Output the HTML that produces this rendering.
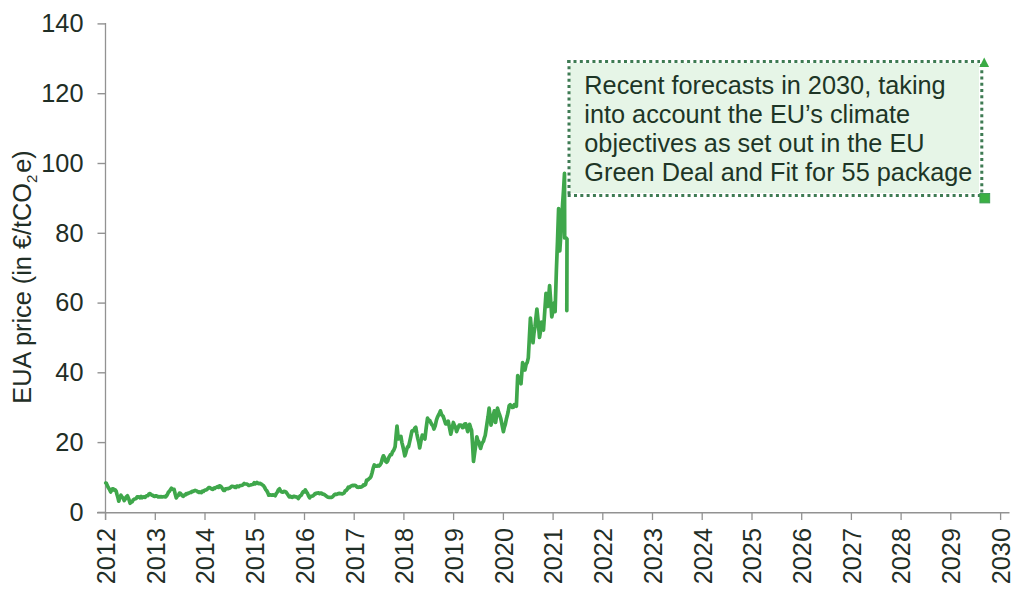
<!DOCTYPE html>
<html><head><meta charset="utf-8"><style>
html,body{margin:0;padding:0;background:#fff;}
body{width:1024px;height:616px;overflow:hidden;position:relative;}
svg{position:absolute;left:0;top:0;}
.t{font-family:"Liberation Sans",sans-serif;font-size:25.3px;fill:#1f2e26;}
.note{position:absolute;left:584.3px;top:71.2px;font-family:"Liberation Sans",sans-serif;font-size:25.3px;line-height:29px;color:#1d3526;white-space:nowrap;}
</style></head><body>
<svg width="1024" height="616" viewBox="0 0 1024 616">
<rect x="570" y="63" width="409" height="130" fill="#e6f5e7"/>
<line x1="97" y1="512.7" x2="1009.5" y2="512.7" stroke="#929292" stroke-width="1.5"/><line x1="105.5" y1="23" x2="105.5" y2="520" stroke="#929292" stroke-width="1.3"/><line x1="97.5" y1="512.4" x2="105.5" y2="512.4" stroke="#929292" stroke-width="1.4"/><text x="83.5" y="520.6" text-anchor="end" class="t">0</text><line x1="97.5" y1="442.6" x2="105.5" y2="442.6" stroke="#929292" stroke-width="1.4"/><text x="83.5" y="450.8" text-anchor="end" class="t">20</text><line x1="97.5" y1="372.8" x2="105.5" y2="372.8" stroke="#929292" stroke-width="1.4"/><text x="83.5" y="381.0" text-anchor="end" class="t">40</text><line x1="97.5" y1="303.1" x2="105.5" y2="303.1" stroke="#929292" stroke-width="1.4"/><text x="83.5" y="311.3" text-anchor="end" class="t">60</text><line x1="97.5" y1="233.3" x2="105.5" y2="233.3" stroke="#929292" stroke-width="1.4"/><text x="83.5" y="241.5" text-anchor="end" class="t">80</text><line x1="97.5" y1="163.5" x2="105.5" y2="163.5" stroke="#929292" stroke-width="1.4"/><text x="83.5" y="171.7" text-anchor="end" class="t">100</text><line x1="97.5" y1="93.7" x2="105.5" y2="93.7" stroke="#929292" stroke-width="1.4"/><text x="83.5" y="101.9" text-anchor="end" class="t">120</text><line x1="97.5" y1="23.9" x2="105.5" y2="23.9" stroke="#929292" stroke-width="1.4"/><text x="83.5" y="32.1" text-anchor="end" class="t">140</text><line x1="105.6" y1="512.5" x2="105.6" y2="520" stroke="#929292" stroke-width="1.3"/><text transform="translate(114.9 584.3) rotate(-90)" class="t">2012</text><line x1="155.3" y1="512.5" x2="155.3" y2="520" stroke="#929292" stroke-width="1.3"/><text transform="translate(164.6 584.3) rotate(-90)" class="t">2013</text><line x1="205.0" y1="512.5" x2="205.0" y2="520" stroke="#929292" stroke-width="1.3"/><text transform="translate(214.3 584.3) rotate(-90)" class="t">2014</text><line x1="254.8" y1="512.5" x2="254.8" y2="520" stroke="#929292" stroke-width="1.3"/><text transform="translate(264.1 584.3) rotate(-90)" class="t">2015</text><line x1="304.5" y1="512.5" x2="304.5" y2="520" stroke="#929292" stroke-width="1.3"/><text transform="translate(313.8 584.3) rotate(-90)" class="t">2016</text><line x1="354.2" y1="512.5" x2="354.2" y2="520" stroke="#929292" stroke-width="1.3"/><text transform="translate(363.5 584.3) rotate(-90)" class="t">2017</text><line x1="403.9" y1="512.5" x2="403.9" y2="520" stroke="#929292" stroke-width="1.3"/><text transform="translate(413.2 584.3) rotate(-90)" class="t">2018</text><line x1="453.6" y1="512.5" x2="453.6" y2="520" stroke="#929292" stroke-width="1.3"/><text transform="translate(462.9 584.3) rotate(-90)" class="t">2019</text><line x1="503.4" y1="512.5" x2="503.4" y2="520" stroke="#929292" stroke-width="1.3"/><text transform="translate(512.7 584.3) rotate(-90)" class="t">2020</text><line x1="553.1" y1="512.5" x2="553.1" y2="520" stroke="#929292" stroke-width="1.3"/><text transform="translate(562.4 584.3) rotate(-90)" class="t">2021</text><line x1="602.8" y1="512.5" x2="602.8" y2="520" stroke="#929292" stroke-width="1.3"/><text transform="translate(612.1 584.3) rotate(-90)" class="t">2022</text><line x1="652.5" y1="512.5" x2="652.5" y2="520" stroke="#929292" stroke-width="1.3"/><text transform="translate(661.8 584.3) rotate(-90)" class="t">2023</text><line x1="702.2" y1="512.5" x2="702.2" y2="520" stroke="#929292" stroke-width="1.3"/><text transform="translate(711.5 584.3) rotate(-90)" class="t">2024</text><line x1="752.0" y1="512.5" x2="752.0" y2="520" stroke="#929292" stroke-width="1.3"/><text transform="translate(761.3 584.3) rotate(-90)" class="t">2025</text><line x1="801.7" y1="512.5" x2="801.7" y2="520" stroke="#929292" stroke-width="1.3"/><text transform="translate(811.0 584.3) rotate(-90)" class="t">2026</text><line x1="851.4" y1="512.5" x2="851.4" y2="520" stroke="#929292" stroke-width="1.3"/><text transform="translate(860.7 584.3) rotate(-90)" class="t">2027</text><line x1="901.1" y1="512.5" x2="901.1" y2="520" stroke="#929292" stroke-width="1.3"/><text transform="translate(910.4 584.3) rotate(-90)" class="t">2028</text><line x1="950.8" y1="512.5" x2="950.8" y2="520" stroke="#929292" stroke-width="1.3"/><text transform="translate(960.1 584.3) rotate(-90)" class="t">2029</text><line x1="1000.6" y1="512.5" x2="1000.6" y2="520" stroke="#929292" stroke-width="1.3"/><text transform="translate(1009.9 584.3) rotate(-90)" class="t">2030</text>
<text transform="translate(31 403.7) rotate(-90)" class="t">EUA price (in €/tCO<tspan font-size="15" dy="6">2</tspan><tspan dy="-6" dx="1.8">e)</tspan></text>
<path d="M105.8 483.0 L106.4 483.4 L108.1 487.2 L109.4 489.3 L110.7 492.0 L112.4 488.8 L113.3 488.8 L114.2 490.1 L115.2 489.8 L116.1 491.0 L117.0 494.5 L117.9 497.6 L118.8 501.2 L119.8 497.6 L120.9 495.2 L122.0 497.0 L123.1 498.1 L124.2 500.6 L125.3 498.9 L126.3 496.8 L127.4 495.8 L128.8 499.0 L130.1 503.3 L131.1 502.3 L132.1 501.9 L133.1 500.0 L134.1 499.3 L135.1 498.9 L136.1 498.5 L137.1 496.9 L138.1 497.1 L139.1 496.9 L140.1 497.8 L141.1 496.5 L142.1 497.7 L143.1 497.0 L144.1 496.8 L145.1 497.4 L146.1 496.1 L147.1 495.6 L148.0 495.6 L149.0 493.9 L150.0 493.6 L150.9 494.4 L151.8 495.2 L152.8 495.4 L153.7 496.3 L154.6 496.5 L155.6 495.8 L156.5 495.9 L157.4 496.2 L158.3 497.0 L159.3 496.7 L160.2 496.9 L161.3 496.6 L162.3 497.0 L163.4 496.8 L164.4 496.6 L165.5 496.9 L166.5 495.9 L167.5 494.3 L168.4 492.2 L169.4 491.3 L170.4 489.8 L171.4 488.3 L172.8 489.4 L174.1 489.3 L175.2 494.0 L176.3 497.9 L177.4 496.0 L178.4 495.4 L179.5 493.1 L180.4 493.3 L181.4 494.6 L182.4 495.9 L183.3 496.3 L184.3 495.1 L185.2 495.0 L186.2 493.7 L187.1 494.0 L188.1 493.1 L189.1 493.1 L190.1 492.4 L191.1 492.5 L192.1 491.3 L193.1 491.5 L194.1 490.9 L195.1 490.4 L196.0 490.8 L196.9 491.0 L197.8 491.9 L198.8 492.4 L199.7 491.9 L200.6 492.5 L201.5 492.6 L202.4 491.2 L203.4 491.5 L204.3 490.4 L205.4 490.0 L206.4 489.9 L207.5 488.9 L208.6 487.7 L209.7 487.7 L210.8 488.3 L211.8 489.2 L212.9 489.3 L213.8 488.1 L214.8 488.4 L215.7 487.5 L216.7 487.1 L217.6 486.6 L218.5 487.4 L219.5 485.9 L220.4 486.1 L221.5 487.1 L222.5 488.8 L223.6 490.4 L224.5 490.5 L225.5 488.8 L226.4 488.9 L227.4 488.6 L228.3 488.7 L229.3 488.2 L230.2 487.8 L231.2 486.7 L232.1 486.3 L233.1 486.6 L234.0 486.5 L234.9 487.4 L235.9 487.5 L236.8 486.1 L237.8 486.1 L238.7 486.7 L239.6 485.9 L240.5 485.5 L241.4 485.5 L242.4 485.3 L243.3 484.4 L244.2 483.5 L245.1 484.0 L246.0 484.0 L246.9 484.1 L247.8 484.6 L248.7 485.5 L249.6 485.2 L250.5 485.0 L251.4 484.7 L252.3 484.5 L253.2 484.2 L254.2 482.7 L255.1 483.9 L256.0 483.3 L256.9 482.4 L258.0 483.5 L259.0 483.7 L260.1 483.4 L261.2 484.0 L262.3 484.9 L263.4 485.5 L264.5 487.2 L265.6 489.4 L266.6 490.5 L267.7 492.5 L268.8 495.2 L269.7 494.8 L270.6 494.9 L271.5 495.2 L272.5 494.9 L273.4 494.9 L274.3 495.2 L275.2 495.8 L276.3 493.4 L277.4 492.1 L278.4 489.8 L279.5 488.8 L280.6 491.0 L281.6 492.0 L282.7 492.2 L283.8 491.4 L284.8 491.6 L285.9 492.0 L287.0 493.4 L288.1 495.1 L289.2 496.9 L290.3 496.2 L291.3 497.2 L292.4 497.3 L293.4 496.4 L294.5 496.3 L295.4 496.8 L296.4 496.8 L297.4 497.4 L298.3 498.5 L299.3 497.0 L300.3 495.7 L301.3 495.3 L302.3 493.1 L303.3 491.6 L304.3 491.9 L305.3 489.9 L306.4 491.9 L307.5 493.4 L308.6 496.0 L309.7 497.9 L310.8 496.3 L311.8 496.2 L312.9 496.0 L313.9 495.0 L315.0 493.6 L315.9 493.8 L316.9 493.1 L317.8 493.2 L318.7 492.8 L319.6 493.7 L320.6 493.2 L321.5 493.1 L322.6 494.2 L323.6 494.2 L324.7 494.7 L325.8 495.8 L326.9 496.6 L328.0 497.2 L329.0 497.3 L330.1 497.5 L331.2 497.4 L332.3 497.0 L333.3 496.0 L334.4 494.7 L335.4 494.2 L336.3 494.5 L337.3 494.1 L338.2 493.5 L339.2 493.4 L340.1 493.6 L341.1 493.5 L342.0 494.0 L343.0 493.6 L344.1 493.0 L345.1 491.0 L346.2 490.5 L347.2 489.3 L348.3 487.2 L349.4 487.7 L350.5 486.3 L351.5 485.8 L352.6 485.4 L353.7 485.6 L354.6 485.3 L355.6 485.5 L356.5 486.5 L357.4 487.2 L358.3 487.3 L359.3 486.9 L360.2 487.2 L361.3 486.9 L362.3 486.6 L363.4 484.9 L364.4 485.3 L365.5 484.5 L366.6 480.2 L367.7 480.1 L368.8 478.9 L369.9 478.0 L371.0 476.6 L372.1 472.7 L373.2 468.1 L374.3 464.9 L375.6 466.2 L376.9 466.2 L378.0 465.4 L379.0 466.0 L380.1 464.9 L381.2 463.0 L382.3 458.6 L383.4 455.8 L384.5 457.7 L385.5 461.2 L386.6 462.3 L387.6 461.1 L388.6 458.0 L389.6 456.2 L390.5 454.5 L391.5 454.6 L392.5 451.9 L393.8 450.1 L395.1 446.8 L396.1 435.4 L397.0 426.0 L398.3 439.0 L399.6 438.6 L400.9 436.4 L401.9 442.6 L402.9 446.5 L403.8 450.6 L404.8 455.8 L405.7 453.3 L406.6 449.7 L407.6 446.8 L408.5 446.7 L409.4 442.9 L410.6 437.5 L411.9 431.2 L412.9 430.3 L413.9 430.6 L414.8 428.1 L415.8 427.3 L416.8 433.6 L417.8 438.6 L418.7 442.0 L419.7 448.0 L421.0 440.9 L422.3 435.1 L423.6 436.4 L424.9 439.0 L426.2 427.8 L427.5 418.2 L428.6 420.0 L429.7 420.4 L430.8 422.7 L431.8 424.5 L432.9 425.7 L433.9 429.0 L435.2 425.8 L436.5 419.9 L437.5 417.1 L438.4 415.2 L439.4 413.4 L440.4 410.8 L441.7 414.8 L443.0 416.0 L444.3 419.6 L445.6 423.8 L446.9 423.9 L448.2 421.2 L449.5 427.7 L450.8 434.2 L452.1 428.4 L453.4 422.5 L454.5 425.6 L455.5 427.1 L456.6 431.6 L457.9 428.2 L459.2 425.1 L460.3 425.0 L461.4 425.3 L462.5 427.7 L463.6 427.3 L464.6 424.1 L465.7 423.8 L466.7 427.6 L467.7 431.6 L468.6 428.7 L469.6 424.4 L470.6 427.5 L471.6 430.3 L472.6 445.4 L473.5 461.4 L474.6 453.2 L475.7 445.2 L476.8 436.8 L477.8 440.5 L478.7 441.5 L479.7 445.7 L480.6 448.4 L481.5 445.1 L482.4 442.6 L483.4 441.4 L484.3 438.1 L485.2 435.5 L486.2 428.9 L487.1 422.7 L488.1 416.4 L489.1 408.2 L490.1 416.5 L491.0 425.1 L492.1 420.7 L493.2 415.6 L494.3 410.8 L495.6 422.5 L496.6 415.4 L497.5 408.2 L498.6 412.3 L499.7 415.0 L500.8 418.6 L502.1 425.2 L503.4 431.6 L504.4 427.2 L505.3 424.4 L506.3 419.3 L507.3 415.6 L508.2 411.5 L509.2 405.6 L510.2 404.8 L511.3 406.0 L512.3 407.5 L513.3 407.2 L514.3 404.7 L515.4 404.7 L516.4 406.2 L517.7 375.7 L518.8 378.2 L519.9 379.4 L521.0 383.8 L522.6 362.7 L523.8 365.3 L525.0 370.0 L526.1 364.3 L527.2 362.6 L528.3 357.9 L529.3 339.1 L530.4 318.0 L531.7 331.9 L533.0 342.7 L534.0 332.9 L535.0 326.7 L535.9 318.1 L536.9 309.0 L538.2 321.8 L539.5 337.5 L540.5 331.3 L541.4 322.0 L542.5 327.9 L543.5 330.0 L544.8 310.6 L546.0 293.4 L547.0 301.7 L547.9 306.4 L549.6 285.6 L550.7 300.8 L551.8 316.8 L553.1 309.6 L554.4 302.5 L555.1 311.6 L556.4 270.0 L557.5 241.2 L558.6 208.5 L559.8 251.0 L560.7 236.8 L561.7 218.6 L562.6 204.2 L563.6 189.0 L564.5 173.4 L564.7 238.0 L565.9 237.9 L567.0 239.0 L566.8 310.6" fill="none" stroke="#3fa74b" stroke-width="3.7" stroke-linejoin="round" stroke-linecap="round"/>
<line x1="567.2" y1="61.4" x2="980" y2="61.4" stroke="#3e7b53" stroke-width="3" stroke-dasharray="3 3.31"/>
<line x1="567.7" y1="195.4" x2="980" y2="195.4" stroke="#3e7b53" stroke-width="3" stroke-dasharray="3 3.31"/>
<line x1="569" y1="59.9" x2="569" y2="196.5" stroke="#3e7b53" stroke-width="3" stroke-dasharray="3 3.25"/>
<line x1="981.8" y1="63.9" x2="981.8" y2="193" stroke="#3e7b53" stroke-width="3" stroke-dasharray="3 3.28"/>
<polygon points="984.2,57.6 979.4,66.9 989.1,66.9" fill="#3bab45"/>
<rect x="979.9" y="193.5" width="9.8" height="9.4" fill="#3bb043" stroke="#3b9a55" stroke-width="0.9"/>
</svg>
<div class="note">Recent forecasts in 2030, taking<br>into account the EU’s climate<br>objectives as set out in the EU<br>Green Deal and Fit for 55 package</div>
</body></html>
